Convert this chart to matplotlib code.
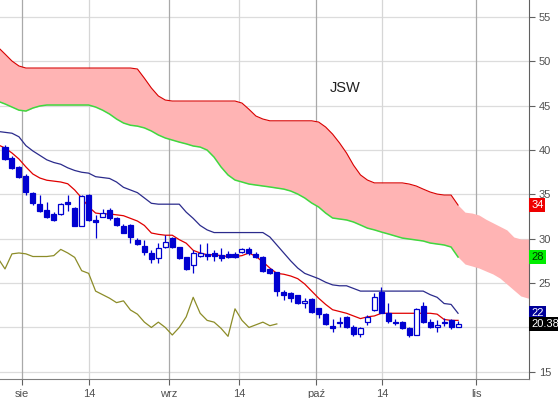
import matplotlib
matplotlib.use("Agg")
import matplotlib.pyplot as plt
import matplotlib.transforms as mtransforms
from matplotlib.patches import Rectangle

plt.rcParams['font.family'] = ['Liberation Sans', 'DejaVu Sans']

title = "JSW"
tick_labels = ["sie", "14", "wrz", "14", "paź", "14", "lis"]
y_ticks = [15, 20, 25, 30, 35, 40, 45, 50, 55]

opens = [40.34, 39.10, 38.09, 37.07, 35.16, 33.92, 33.24, 32.79, 32.79, 34.14,
         33.47, 31.44, 34.96, 32.14, 32.45, 33.24, 32.34, 31.44, 31.55, 29.86,
         29.18, 28.39, 27.83, 29.07, 30.08, 29.07, 27.94, 27.04, 28.05, 28.28,
         28.39, 28.17, 28.28, 28.28, 28.51, 28.85, 28.28, 27.94, 26.59, 26.25,
         23.99, 23.88, 23.66, 22.76, 23.21, 22.19, 21.52, 20.16, 20.50, 21.18,
         20.05, 19.26, 20.61, 21.97, 23.99, 21.63, 20.64, 20.61, 19.94, 19.15,
         22.45, 20.64, 20.05, 20.50, 20.86, 20.05]
highs = [40.57, 39.33, 38.20, 37.30, 35.27, 34.93, 34.14, 33.00, 34.00, 34.93,
         33.60, 34.93, 35.10, 32.68, 33.35, 33.47, 32.40, 31.66, 31.70, 30.08,
         29.86, 28.73, 29.52, 30.42, 30.20, 29.10, 28.00, 28.73, 29.41, 29.52,
         28.73, 28.96, 28.60, 28.50, 28.96, 29.07, 28.50, 28.05, 26.70, 26.30,
         24.20, 23.99, 23.70, 23.32, 23.30, 22.20, 21.60, 20.96, 21.20, 21.30,
         20.27, 20.00, 21.40, 23.88, 24.56, 22.76, 21.00, 20.70, 20.00, 22.20,
         22.87, 20.90, 20.80, 21.10, 20.90, 20.70]
lows = [38.88, 37.90, 36.85, 34.93, 33.80, 33.02, 32.34, 32.00, 32.70, 33.13,
        31.40, 31.40, 32.00, 30.12, 32.40, 32.10, 31.40, 30.60, 29.52, 29.30,
        28.17, 27.27, 27.27, 29.00, 29.00, 27.70, 26.50, 26.14, 28.00, 27.61,
        27.49, 27.49, 27.80, 27.80, 28.40, 28.17, 27.80, 26.25, 26.00, 23.55,
        23.09, 22.87, 22.65, 22.19, 21.60, 21.07, 20.30, 19.48, 20.00, 19.94,
        19.03, 18.92, 20.30, 21.90, 21.60, 20.50, 20.30, 19.80, 18.92, 19.10,
        20.50, 19.90, 19.50, 20.20, 19.80, 20.00]
closes = [38.99, 37.98, 36.96, 35.27, 34.03, 33.13, 32.45, 32.12, 33.92, 33.92,
          31.44, 34.82, 32.12, 31.89, 32.93, 32.34, 31.55, 30.65, 30.20, 29.41,
          28.51, 27.72, 28.96, 29.64, 29.07, 27.83, 26.59, 28.39, 28.39, 28.05,
          28.05, 27.83, 27.94, 27.94, 28.85, 28.39, 27.94, 26.36, 26.14, 24.11,
          23.66, 23.32, 22.76, 22.98, 21.74, 21.52, 20.39, 19.94, 20.61, 20.05,
          19.26, 19.94, 21.18, 23.43, 21.63, 20.75, 20.50, 19.94, 19.15, 22.11,
          20.64, 20.05, 20.27, 20.64, 20.05, 20.38]

# lines start one period before the first candle
tenkan = [40.6, 40.23, 39.67, 38.99, 38.1, 37.3, 36.85, 36.6, 36.5, 36.4, 36.2,
          35.5, 34.6, 33.6, 32.9, 32.8, 32.8, 32.7, 32.6, 32.3, 32.0,
          31.5, 30.65, 30.5, 30.4, 30.4, 29.9, 29.5, 28.7, 28.4, 28.2,
          28.2, 28.1, 28.0, 28.0, 28.1, 28.4, 28.0, 27.4, 26.7, 26.1,
          26.0, 25.8, 25.5, 24.9, 24.1, 23.3, 22.6, 22.0, 21.8, 21.6,
          21.3, 21.0, 21.2, 21.3, 21.6, 21.6, 21.6, 21.6, 21.6, 21.6,
          21.6, 21.6, 21.5, 20.9, 20.8, 20.8]
kijun = [42.1, 42.0, 41.9, 41.5, 40.5, 39.9, 39.4, 38.9, 38.6, 38.4, 38.0,
         37.7, 37.5, 37.4, 37.0, 36.9, 36.8, 36.4, 35.8, 35.5, 35.2,
         34.6, 34.0, 33.9, 33.9, 33.9, 33.9, 33.0, 32.3, 31.5, 31.0,
         30.7, 30.7, 30.7, 30.7, 30.7, 30.7, 30.7, 30.7, 30.2, 29.3,
         28.4, 27.5, 26.7, 26.1, 25.8, 25.5, 25.1, 24.8, 24.7, 24.7,
         24.4, 24.1, 24.1, 24.1, 24.1, 24.1, 24.1, 24.1, 24.1, 24.1,
         24.1, 23.7, 23.4, 22.7, 22.6, 21.6]
chikou = [27.8, 26.6, 28.3, 28.4, 28.3, 28.0, 28.0, 28.0, 28.1, 28.8, 28.4,
          27.9, 26.4, 26.1, 24.1, 23.7, 23.3, 22.8, 23.0, 21.97, 21.5,
          20.6, 20.0, 20.6, 20.0, 19.15, 20.0, 21.2, 23.4, 21.6, 20.8,
          20.6, 19.9, 19.0, 22.1, 20.8, 20.0, 20.3, 20.6, 20.2, 20.4]
span_b = [51.6, 50.83, 50.04, 49.48, 49.25, 49.25, 49.25, 49.25, 49.25, 49.25,
          49.25, 49.25, 49.25, 49.25, 49.25, 49.25, 49.25, 49.25, 49.25, 49.25,
          49.14, 48.1, 47.0, 46.1, 45.64, 45.53, 45.53, 45.53, 45.53, 45.53,
          45.53, 45.53, 45.53, 45.53, 45.53, 45.3, 44.6, 43.84, 43.5, 43.3,
          43.3, 43.3, 43.3, 43.3, 43.3, 43.3, 43.16, 42.6, 41.8, 40.8,
          39.67, 38.3, 37.2, 36.62, 36.3, 36.3, 36.3, 36.3, 36.3, 36.17,
          35.95, 35.6, 35.27, 35.04, 34.93, 34.93, 33.8, 33.0, 32.9, 32.68,
          32.2, 31.8, 31.4, 31.0, 30.2, 29.97, 29.97, 29.86]
span_a = [45.5, 45.2, 44.85, 44.5, 44.4, 44.74, 44.97, 45.08, 45.08, 45.08,
          45.08, 45.08, 45.08, 45.08, 44.85, 44.5, 44.06, 43.5, 43.05, 42.8,
          42.7, 42.5, 42.15, 41.7, 41.36, 41.13, 40.9, 40.7, 40.46, 40.34,
          40.0, 39.2, 38.09, 37.19, 36.62, 36.4, 36.17, 36.06, 35.95, 35.84,
          35.72, 35.6, 35.38, 35.04, 34.6, 34.03, 33.58, 32.9, 32.34, 32.23,
          32.12, 31.89, 31.55, 31.2, 31.0, 30.76, 30.54, 30.31, 30.08, 29.97,
          29.86, 29.75, 29.52, 29.41, 29.3, 29.07, 27.94, 27.15, 26.93, 26.7,
          26.36, 26.03, 25.57, 24.9, 24.22, 23.55, 23.32, 23.2]

# ---- layout ----
tick_pos = [2.44, 12.05, 23.53, 33.57, 44.62, 54.09, 67.58]
major_ticks = {0, 2, 4, 6}
n = len(closes)
x_c = list(range(n))
x_line = list(range(-1, n))
x_chik = list(range(-1, len(chikou) - 1))
x_cloud = list(range(-1, len(span_a) - 1))
n_border = n + 1  # cloud borders drawn up to the last candle

BLUE = '#0000d0'

fig = plt.figure(figsize=(5.58, 3.98), dpi=100)
ax = fig.add_axes([0, 19 / 398, 529 / 558, 379 / 398])
ax.set_xlim(-0.717, 75.18)
ax.set_ylim(14.19, 56.92)

# grid
for v in y_ticks:
    ax.axhline(v, color='#dcdcdc', lw=0.9, zorder=0)
for k, p in enumerate(tick_pos):
    ax.axvline(p, color='#a9a9a9' if k in major_ticks else '#d6d6d6', lw=0.9, zorder=0)

# cloud
ax.fill_between(x_cloud, span_a, span_b, color='#ffb4b4', lw=0, zorder=1)
ax.plot(x_cloud[:n_border], span_b[:n_border], color='#d80000', lw=0.8, zorder=2)
ax.plot(x_cloud[:n_border], span_a[:n_border], color='#3fd83f', lw=1.1, zorder=2)

# lines
ax.plot(x_chik, chikou, color='#8c8c28', lw=0.9, zorder=2)
ax.plot(x_line, kijun, color='#2b2b8c', lw=0.9, zorder=2)
ax.plot(x_line, tenkan, color='#e00000', lw=0.9, zorder=3)

# candles
w = 0.72
for i, o, h, l, c in zip(x_c, opens, highs, lows, closes):
    ax.vlines(i, l, h, color=BLUE, lw=0.9, zorder=4)
    bottom = min(o, c)
    height = max(abs(c - o), 0.08)
    fc = BLUE if c < o else 'white'
    ax.add_patch(Rectangle((i - w / 2, bottom), w, height, facecolor=fc,
                           edgecolor=BLUE, lw=0.9, zorder=5))

# axes styling
for s in ['left', 'top']:
    ax.spines[s].set_visible(False)
ax.spines['right'].set_color('#606060')
ax.spines['bottom'].set_color('#808080')
ax.yaxis.tick_right()
ax.set_yticks(y_ticks)
ax.set_yticklabels([str(v) for v in y_ticks])
ax.set_xticks(tick_pos)
ax.set_xticklabels(tick_labels)
ax.tick_params(axis='both', colors='#606060', labelcolor='#505050', labelsize=8,
               length=4, width=0.8, pad=3)

ax.text(0.652, 0.768, title, transform=ax.transAxes, ha='center', va='center',
        fontsize=10.5, color='#202020')

# right value labels
tr = mtransforms.blended_transform_factory(ax.transAxes, ax.transData)
labels = [
    (span_b[n], f"{span_b[n]:.0f}", '#ee0000', 'white'),
    (span_a[n], f"{span_a[n]:.0f}", '#00ee00', '#003300'),
    (kijun[-1], f"{kijun[-1]:.0f}", '#000099', 'white'),
    (closes[-1], f"{closes[-1]:.2f}", 'black', 'white'),
]
for z, (val, txt, bg, fg) in enumerate(labels):
    t = ax.text(1.004, val, txt, transform=tr, ha='left', va='center', fontsize=8,
                color=fg, zorder=10 + z, clip_on=False,
                bbox=dict(boxstyle='square,pad=0.18', fc=bg, ec='none'))

fig.savefig('out.png', dpi=100)
